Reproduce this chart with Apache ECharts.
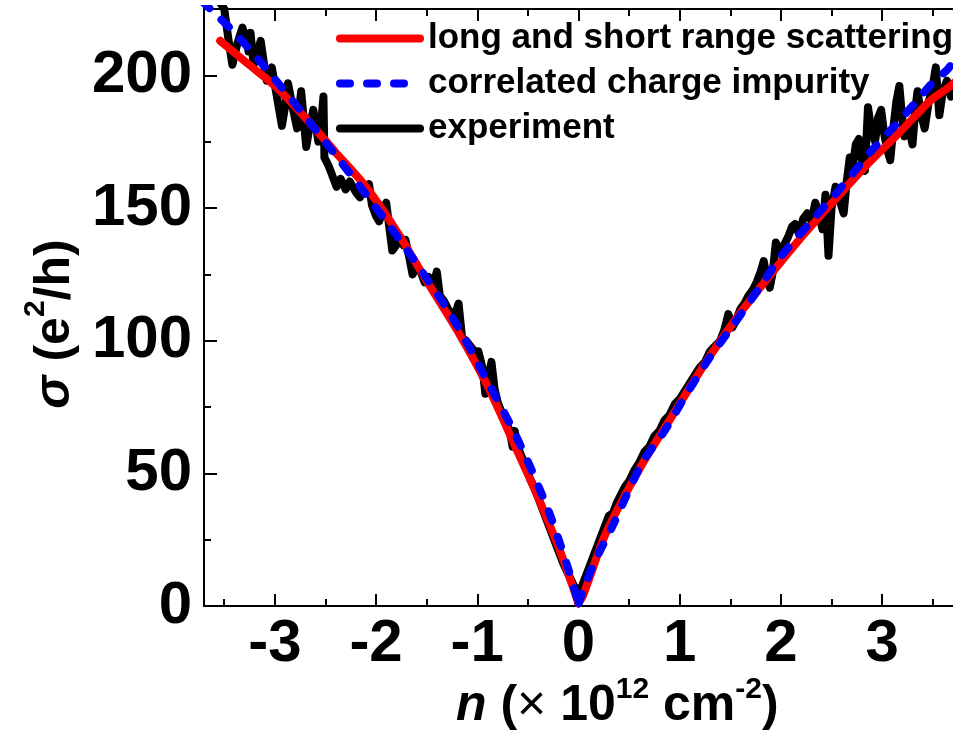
<!DOCTYPE html>
<html><head><meta charset="utf-8">
<script src="https://cdn.jsdelivr.net/npm/echarts@6/dist/echarts.min.js"></script>
<style>html,body{margin:0;padding:0;background:#fff}#c{width:953px;height:735px}</style>
</head><body><div id="c"></div>
<script>
// ---- data ----
const seriesNames = ['long and short range scattering', 'correlated charge impurity', 'experiment'];

const expX = [
 -3.72,-3.62,-3.55,-3.50,-3.46,-3.42,-3.37,-3.32,-3.28,-3.26,
 -3.24,-3.21,-3.17,-3.14,-3.11,-3.08,-3.03,-2.98,-2.93,-2.90,
 -2.87,-2.83,-2.78,-2.74,-2.69,-2.66,-2.62,-2.57,-2.54,-2.52,
 -2.51,-2.47,-2.43,-2.39,-2.35,-2.30,-2.26,-2.20,-2.16,-2.12,
 -2.07,-2.04,-2.00,-1.97,-1.93,-1.90,-1.87,-1.84,-1.80,-1.76,
 -1.73,-1.71,-1.67,-1.64,-1.60,-1.56,-1.52,-1.48,-1.44,-1.40,
 -1.37,-1.33,-1.29,-1.25,-1.21,-1.185,-1.15,-1.11,-1.07,-1.03,
 -0.99,-0.95,-0.92,-0.89,-0.86,-0.83,-0.80,-0.76,-0.72,-0.68,
 -0.65,-0.63,-0.60,-0.56,-0.52,-0.48,-0.44,-0.40,-0.35,-0.30,
 -0.25,-0.20,-0.15,-0.10,-0.05,0.00,
 0.03,0.06,0.10,0.14,0.18,0.22,0.26,0.30,0.34,0.38,
 0.42,0.46,0.50,0.55,0.60,0.65,0.70,0.75,0.80,0.85,
 0.90,0.95,1.00,1.05,1.10,1.15,1.20,1.25,1.30,1.35,
 1.40,1.44,1.48,1.52,1.56,1.60,1.64,1.68,1.72,1.76,
 1.80,1.83,1.86,1.89,1.92,1.95,1.99,2.03,2.07,2.11,
 2.14,2.18,2.22,2.26,2.30,2.34,2.38,2.41,2.44,2.47,
 2.50,2.54,2.58,2.62,2.65,2.68,2.71,2.74,2.77,2.80,
 2.83,2.86,2.89,2.93,2.96,2.99,3.02,3.05,3.08,3.11,
 3.14,3.17,3.20,3.22,3.26,3.30,3.33,3.35,3.38,3.42,
 3.46,3.50,3.53,3.565,3.60,3.64,3.68
];
const expY = [
 240,232,228,225,214,204,212,218,213,209,
 216,204,209,213,205,198,203,192,181,188,
 197,189,180,194,173,180,187,175,183,192,
 169,166,162,158,161,157,160,156,154,157,
 159,151,147,145,149,152,143,134,136,139,
 136,138,131,125,128,126,122,124,120,126,
 117,115,112,110,111,114,101,100,98,96,
 96,90,80,86,92,82,77,73,70,66,
 60,66,60,56,53,48,45,41,36,31,
 26,21,16,12,8,5,
 7,10,14,18,22,26,30,34,35,39,
 42,45,47,51,54,58,60,64,66,70,
 72,76,78,81,84,87,90,92,96,98,
 100,104,110,105,108,112,114,117,119,122,
 126,130,124,120,126,137,133,136,139,143,
 144,140,146,148,145,152,147,142,155,132,
 150,158,153,148,160,169,166,174,176,168,
 164,188,180,175,184,187,178,172,168,180,
 190,196,183,177,181,174,188,194,186,180,
 190,196,203,185,194,198,192
];

const redLeftX  = [-3.54,-3.3,-3.0,-2.7,-2.4,-2.1,-1.8,-1.5,-1.2,-0.9,-0.6,-0.4,-0.2,-0.1,0];
const redLeftY  = [213,205.4,196,184,171,158,141.5,122.5,104,83,58,41,22.5,12,1];
const redRightX = [0,0.04,0.1,0.27,0.6,0.92,1.25,1.57,1.9,2.18,2.5,2.83,3.16,3.48,3.64,3.72];
const redRightY = [1,3.5,9.7,27.4,51.5,71.3,91.4,109,125,138,151.7,165.5,178,190.6,195,197.5];

const blueLeftX  = [-3.72,-3.63,-3.405,-3.14,-2.75,-2.36,-1.9,-1.67,-1.25,-0.924,-0.597,-0.30,-0.108,0];
const blueLeftY  = [228,224.7,216.3,205,186.8,168,145,132.8,109,86.4,62.5,36.2,14.8,1];
const blueRightX = [0,0.137,0.333,0.627,0.855,1.05,1.28,1.54,1.77,2.01,2.31,2.60,2.90,3.19,3.516,3.64,3.72];
const blueRightY = [1,14.8,29.9,53.7,66.3,78.8,92.7,106.5,119,132.2,145.4,158,171.8,183.7,198,202,206];

const xMajorTicks = [-3,-2,-1,0,1,2,3];
const xMinorTicks = [-3.5,-2.5,-1.5,-0.5,0.5,1.5,2.5,3.5];
const yMajorTicks = [0,50,100,150,200];
const yMinorTicks = [25,75,125,175];

// axis titles as runs: [text, style] (style: i=italic bold, b=bold, n=normal, s=superscript)
const xTitleRuns = [['n','i'],[' (','b'],['×','n'],[' 10','b'],['12','s'],[' cm','b'],['-2','s'],[')','b']];
const yTitleRuns = [['σ','i'],[' (e','b'],['2','s'],['/h)','b']];

// ---- chart ----
const FAM = '"Liberation Sans", Arial, sans-serif';
const FONT = "'Liberation Sans', Arial, sans-serif";
const zip = (xs, ys) => xs.map((x, i) => [x, ys[i]]);
const chart = echarts.init(document.getElementById('c'), null, {renderer: 'canvas'});

const mctx = document.createElement('canvas').getContext('2d');
function runFont(kind, size) {
  if (kind === 'i') return 'italic bold ' + size + 'px ' + FAM;
  if (kind === 'n') return 'normal ' + size + 'px ' + FAM;
  if (kind === 's') return 'bold ' + Math.round(size * 0.6) + 'px ' + FAM;
  return 'bold ' + size + 'px ' + FAM;
}
function buildTitle(runs, size, supRaise) {
  let x = 0; const kids = [];
  runs.forEach(([t, k]) => {
    const font = runFont(k, size);
    mctx.font = font;
    const w = mctx.measureText(t).width;
    kids.push({type: 'text', x: x, y: (k === 's' ? -supRaise : 0),
      style: {text: t, font: font, fill: '#000', align: 'left', verticalAlign: 'bottom'}});
    x += w;
  });
  return {kids, width: x};
}
const XT = buildTitle(xTitleRuns, 50, 27);
const YT = buildTitle(yTitleRuns, 50, 30);
const DESC = 0.21 * 50;

function xAxisDef(pos, ticks, len, label) {
  return {
    type: 'value', min: -3.7, max: 3.7, position: pos,
    axisLine: {show: true, onZero: false, lineStyle: {color: '#000', width: 2}},
    axisTick: {show: true, inside: true, length: len, customValues: ticks, lineStyle: {color: '#000', width: 2}},
    axisLabel: label ? {show: true, customValues: ticks, color: '#000', fontSize: 60, fontWeight: 'bold', fontFamily: FONT, margin: 8} : {show: false},
    splitLine: {show: false}
  };
}
function yAxisDef(pos, ticks, len, label) {
  return {
    type: 'value', min: 0, max: 225, position: pos,
    axisLine: {show: true, onZero: false, lineStyle: {color: '#000', width: 2}},
    axisTick: {show: true, inside: true, length: len, customValues: ticks, lineStyle: {color: '#000', width: 2}},
    axisLabel: label ? {show: true, customValues: ticks, color: '#000', fontSize: 60, fontWeight: 'bold', fontFamily: FONT, margin: 12} : {show: false},
    splitLine: {show: false}
  };
}
const lineCommon = {type: 'line', showSymbol: false, symbol: 'none', clip: true, animation: false, xAxisIndex: 0, yAxisIndex: 0};

chart.setOption({
  animation: false,
  backgroundColor: '#fff',
  grid: {left: 204, right: -6, top: 9, bottom: 129, containLabel: false},
  xAxis: [
    xAxisDef('bottom', xMajorTicks, 12, true),
    xAxisDef('bottom', xMinorTicks, 7, false),
    xAxisDef('top', xMajorTicks, 12, false),
    xAxisDef('top', xMinorTicks, 7, false)
  ],
  yAxis: [
    yAxisDef('left', yMajorTicks, 13, true),
    yAxisDef('left', yMinorTicks, 7, false)
  ],
  legend: {
    orient: 'vertical', left: 331, top: 16, itemWidth: 80, itemHeight: 10, itemGap: 10,
    data: seriesNames,
    itemStyle: {opacity: 0},
    lineStyle: {width: 8, cap: 'round'},
    textStyle: {color: '#000', fontSize: 35, fontWeight: 'bold', fontFamily: FONT, padding: [0, 0, 0, 3]},
    selectedMode: false
  },
  series: [
    Object.assign({}, lineCommon, {name: seriesNames[2], data: zip(expX, expY), z: 2,
      lineStyle: {color: '#000', width: 8, cap: 'round', join: 'round'}, itemStyle: {color: '#000'}}),
    Object.assign({}, lineCommon, {name: seriesNames[0], data: zip(redLeftX, redLeftY), smooth: 0.3, z: 3,
      lineStyle: {color: '#ff0000', width: 8, cap: 'round', join: 'round'}, itemStyle: {color: '#ff0000'}}),
    Object.assign({}, lineCommon, {name: seriesNames[0], data: zip(redRightX, redRightY), smooth: 0.3, z: 3,
      lineStyle: {color: '#ff0000', width: 8, cap: 'round', join: 'round'}, itemStyle: {color: '#ff0000'}}),
    Object.assign({}, lineCommon, {name: seriesNames[1], data: zip(blueLeftX, blueLeftY), smooth: 0.3, z: 4,
      lineStyle: {color: '#0000ff', width: 8, type: [10, 17], cap: 'round', join: 'round'}, itemStyle: {color: '#0000ff'}}),
    Object.assign({}, lineCommon, {name: seriesNames[1], data: zip(blueRightX, blueRightY), smooth: 0.3, z: 4,
      lineStyle: {color: '#0000ff', width: 8, type: [10, 17], cap: 'round', join: 'round'}, itemStyle: {color: '#0000ff'}})
  ],
  graphic: [
    {type: 'group', x: 456, y: 721 + DESC, children: XT.kids},
    {type: 'group', x: 70 + DESC, y: 324 + YT.width / 2, rotation: Math.PI / 2, children: YT.kids}
  ]
});
</script>
</body></html>
